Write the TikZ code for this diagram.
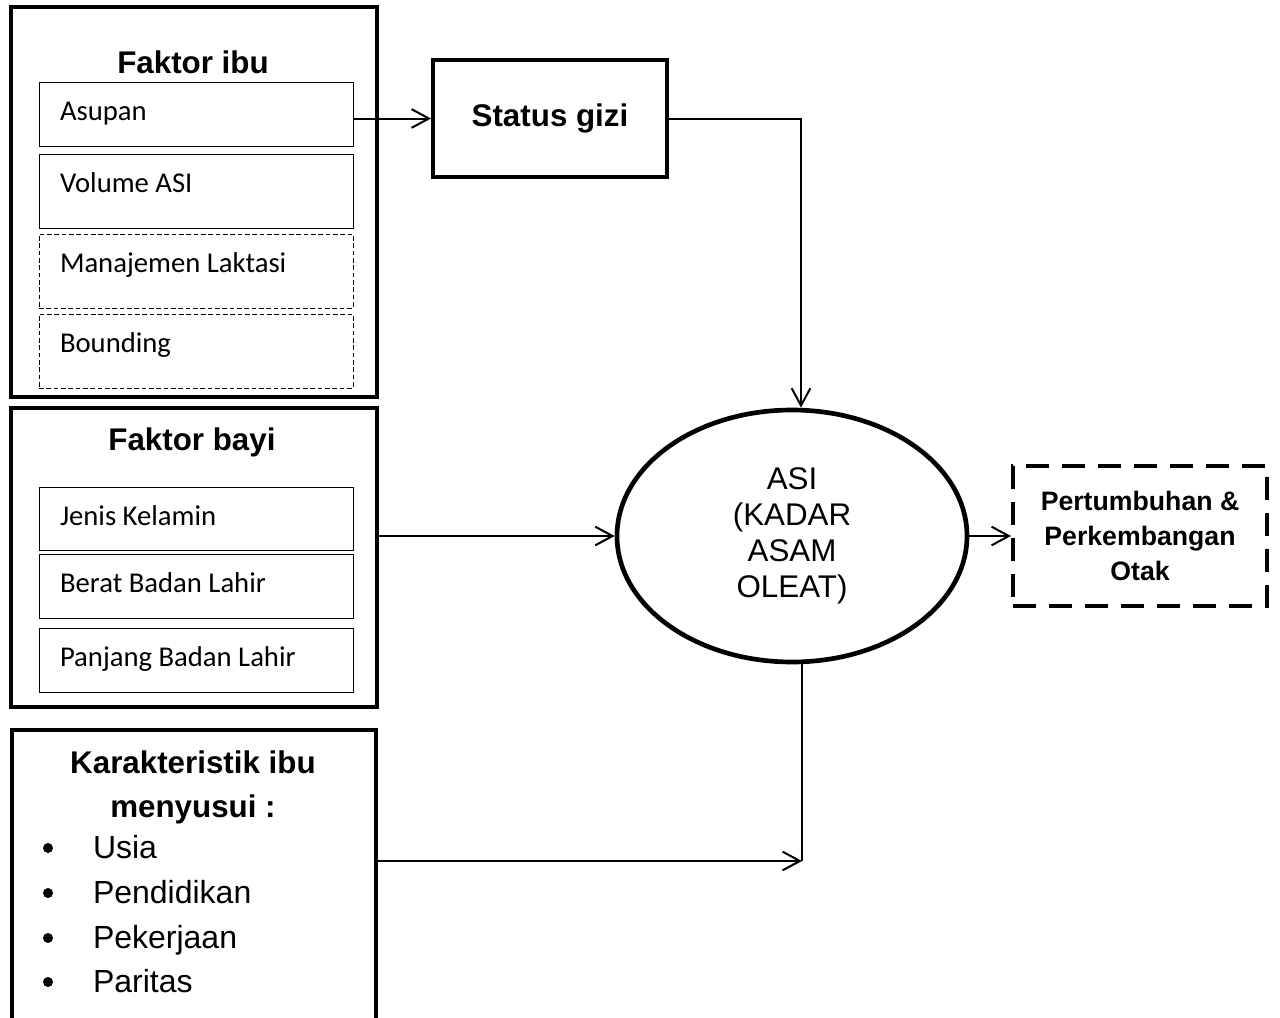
\documentclass[tikz,border=0pt]{standalone}
\usepackage{fontspec}
\setmainfont{Liberation Sans}
\newfontfamily\calibri{Carlito}
\usetikzlibrary{arrows.meta,shapes.geometric}
\newcommand{\pxu}{0.75pt}

\begin{document}
\begin{tikzpicture}[x=0.75pt,y=-0.75pt,>={Straight Barb[length=13pt,width=14pt]},
  line width=1.5pt,
  group box/.style={draw,line width=3pt,minimum width=366*\pxu,inner sep=0pt},
  item box/.style={draw,line width=0.6pt,minimum width=314*\pxu,inner sep=0pt},
  open item/.style={item box,dash pattern=on 3.5pt off 2pt},
  item text/.style={anchor=base west,inner sep=0pt,font=\calibri\fontsize{21.5}{26}\selectfont},
  head text/.style={anchor=base,inner sep=0pt,font=\bfseries\fontsize{23.5}{33}\selectfont},
  list text/.style={anchor=base west,inner sep=0pt,font=\fontsize{24}{33}\selectfont},
  dot/.style={circle,fill,inner sep=0pt,minimum size=10*\pxu}]

  \useasboundingbox (0,0) rectangle (1280,1017);

  \node[group box,minimum height=390*\pxu] (ibu) at (193.5,202) {};
  \node[head text] (ibuhead) at (193,73) {Faktor ibu};
  \node[item box,minimum height=64*\pxu] (asupan) at (196,114) {};
  \node[item box,minimum height=74*\pxu] (volume) at (196,191) {};
  \node[open item,minimum height=74*\pxu] (laktasi) at (196,271) {};
  \node[open item,minimum height=74*\pxu] (bounding) at (196,351) {};
  \node[item text] (asupantxt) at (59,120) {Asupan};
  \node[item text] (volumetxt) at (59,192) {Volume ASI};
  \node[item text] (laktasitxt) at (59,272) {Manajemen Laktasi};
  \node[item text] (boundingtxt) at (59,352) {Bounding};

  \node[group box,minimum height=299*\pxu] (bayi) at (193.5,557.5) {};
  \node[head text] (bayihead) at (192,450) {Faktor bayi};
  \node[item box,minimum height=63*\pxu] (jenis) at (196,518.5) {};
  \node[item box,minimum height=64*\pxu] (berat) at (196,586) {};
  \node[item box,minimum height=64*\pxu] (panjang) at (196,660) {};
  \node[item text] (jenistxt) at (59,525) {Jenis Kelamin};
  \node[item text] (berattxt) at (59,592) {Berat Badan Lahir};
  \node[item text] (panjangtxt) at (59,666) {Panjang Badan Lahir};

  \node[group box,minimum width=364*\pxu,minimum height=310*\pxu] (karak) at (194,885) {};
  \node[anchor=north,inner sep=0pt,align=center,font=\bfseries\fontsize{23.5}{33}\selectfont]
    (karakhead) at (193,750) {Karakteristik ibu\\menyusui :};
  \node[dot] (b1) at (48,848) {};
  \node[dot] (b2) at (48,893) {};
  \node[dot] (b3) at (48,938) {};
  \node[dot] (b4) at (48,982) {};
  \node[list text] (usia) at (92,858) {Usia};
  \node[list text] (pendidikan) at (92,903) {Pendidikan};
  \node[list text] (pekerjaan) at (92,948) {Pekerjaan};
  \node[list text] (paritas) at (92,992) {Paritas};

  \node[draw,line width=3pt,minimum width=234*\pxu,minimum height=117*\pxu,
    font=\bfseries\fontsize{23.5}{28}\selectfont] (gizi) at (550,118.5) {Status gizi};

  \node[draw,ellipse,line width=3.5pt,minimum width=350*\pxu,minimum height=252*\pxu,
    inner sep=0pt,align=center,font=\fontsize{23.5}{27}\selectfont]
    (asi) at (792,536) {ASI\\(KADAR\\ASAM\\OLEAT)};

  \node[draw,line width=3pt,dash pattern=on 17pt off 10pt,minimum width=254*\pxu,
    minimum height=140*\pxu,align=center,font=\bfseries\fontsize{20}{26}\selectfont]
    (otak) at (1140,536) {Pertumbuhan \&\\Perkembangan\\Otak};

  \coordinate (gizibend) at (801,118.5);
  \coordinate (karakjoin) at (802,861);

  \path[->]
    (asupan.east |- gizi.west) edge (gizi.west)
    (bayi.east |- asi.west) edge (asi.west)
    (asi.east) edge (otak.west)
    (karak.east |- karakjoin) edge (karakjoin);
  \draw[->] (gizi.east) -- (gizibend) -- (gizibend |- asi.north);
  \draw (asi.south -| karakjoin) -- (karakjoin);

\end{tikzpicture}
\end{document}
